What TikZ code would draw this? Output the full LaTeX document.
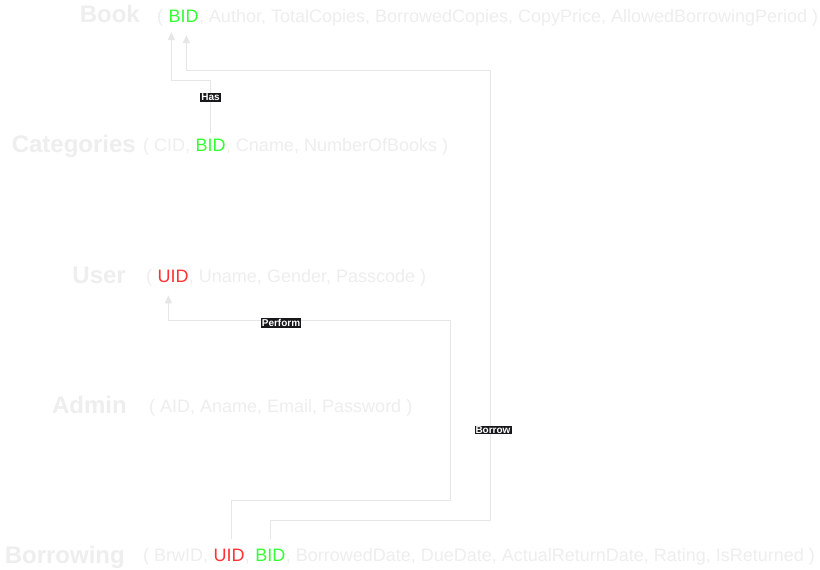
\documentclass[tikz,border=0pt]{standalone}
\usepackage{fontspec}
\setmainfont{Liberation Sans}
\usetikzlibrary{arrows.meta}
\definecolor{faint}{HTML}{EEEEEE}
\definecolor{wire}{HTML}{E6E6E6}
\definecolor{keygreen}{HTML}{33FF33}
\definecolor{keyred}{HTML}{FF3333}
\definecolor{tagbg}{HTML}{18181B}

\begin{document}
\begin{tikzpicture}[
          x = 1pt, y = -1pt,
          title/.style = {anchor=base east, inner sep=0pt, text=faint, font=\fontsize{24}{28}\selectfont\bfseries},
          attr/.style = {anchor=base west, inner sep=0pt, text=faint, font=\fontsize{18}{22}\selectfont},
          uidkey/.style = {attr, text=keyred},
          bidkey/.style = {attr, text=keygreen},
          link/.style = {draw=wire, line width=1pt, -{Triangle[length=8pt,width=7pt]}},
          tag/.style = {fill=tagbg, text=white, inner sep=1pt, font=\fontsize{10}{12}\selectfont\bfseries}
        ]

        \fill[white] (0,0) rectangle (820,570);
        \useasboundingbox (0,0) rectangle (820,570);

        % Tables
        \node[title] (book) at (140,23) {Book};
        \node[attr] (book-open) at (157,22) {(~\null};
        \node[bidkey] (book-bid) at (book-open.base east) {BID};
        \node[attr] (book-rest) at (book-bid.base east) {, Author, TotalCopies, BorrowedCopies, CopyPrice, AllowedBorrowingPeriod )};

        \node[title] (categories) at (136,152) {Categories};
        \node[attr] (categories-open) at (143,151) {( CID,~\null};
        \node[bidkey] (categories-bid) at (categories-open.base east) {BID};
        \node[attr] (categories-rest) at (categories-bid.base east) {, Cname, NumberOfBooks )};

        \node[title] (user) at (126,283) {User};
        \node[attr] (user-open) at (146,282) {(~\null};
        \node[uidkey] (user-uid) at (user-open.base east) {UID};
        \node[attr] (user-rest) at (user-uid.base east) {, Uname, Gender, Passcode )};

        \node[title] (admin) at (127,413) {Admin};
        \node[attr] (admin-attrs) at (149,412) {( AID, Aname, Email, Password )};

        \node[title] (borrowing) at (125,563) {Borrowing};
        \node[attr] (borrowing-open) at (143,561) {( BrwID,~\null};
        \node[uidkey] (borrowing-uid) at (borrowing-open.base east) {UID};
        \node[attr] (borrowing-mid) at (borrowing-uid.base east) {,~\null};
        \node[bidkey] (borrowing-bid) at (borrowing-mid.base east) {BID};
        \node[attr] (borrowing-rest) at (borrowing-bid.base east) {, BorrowedDate, DueDate, ActualReturnDate, Rating, IsReturned )};

        % Relations
        \draw[link] ([yshift=5pt]categories-bid.north) -- node[tag, pos=0.68] {Has} ++(0,-53) -| ([xshift=3pt,yshift=-10pt]book-bid.south west);

        \coordinate (borrow-corner) at (490,520);
        \coordinate (borrow-top) at (490,70);
        \draw[link] ([yshift=9pt]borrowing-bid.north) |- (borrow-corner) -- node[tag, pos=0.2, xshift=3pt] {Borrow} (borrow-top) -| ([xshift=18pt,yshift=-13pt]book-bid.south west);

        \coordinate (perform-corner) at (450,500);
        \coordinate (perform-top) at (450,320);
        \draw[link] ([xshift=2pt,yshift=9pt]borrowing-uid.north) |- (perform-corner) -- (perform-top) -| node[tag, pos=0.3, yshift=-3pt] {Perform} ([xshift=11pt,yshift=-13pt]user-uid.south west);

      \end{tikzpicture}
\end{document}
